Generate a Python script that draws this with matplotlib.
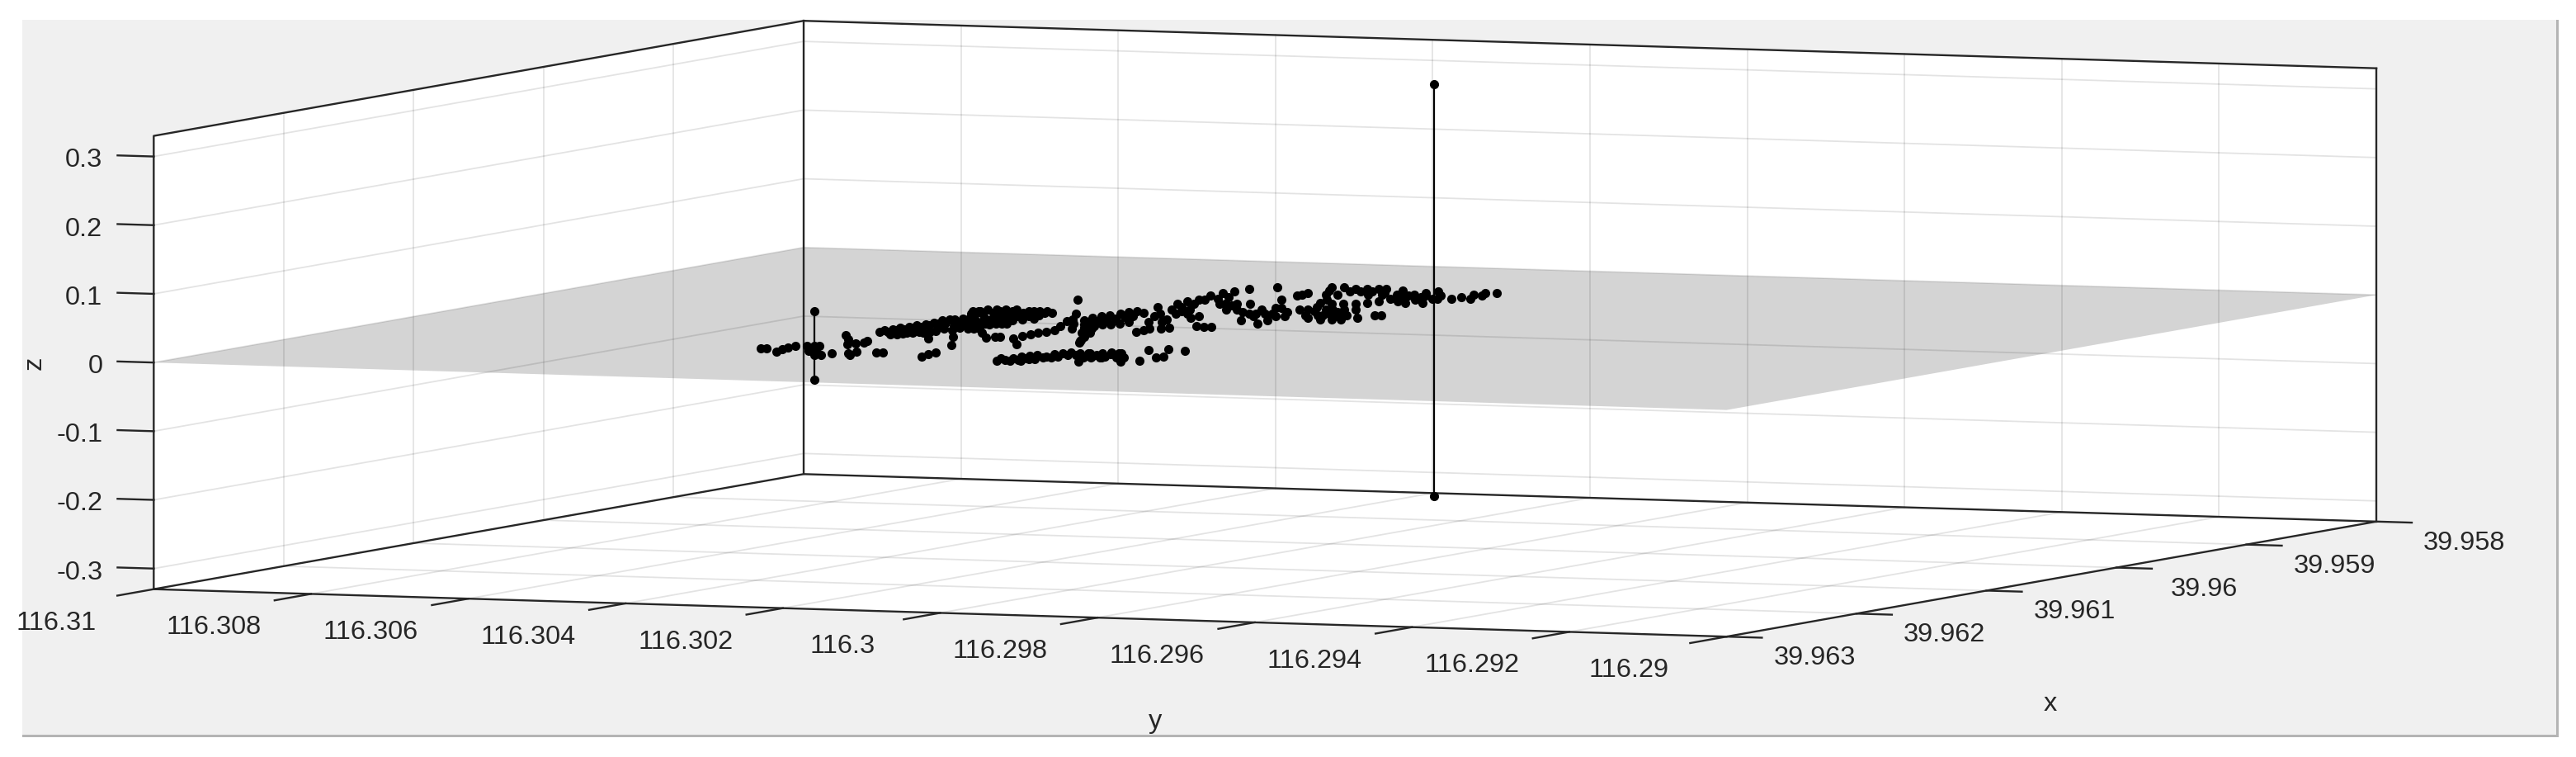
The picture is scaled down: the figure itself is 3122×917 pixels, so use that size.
# -*- coding: utf-8 -*-
"""
plot.py

Point cloud over a flat grey plane, orthographic view with a wide stretched box.
"""

import matplotlib
matplotlib.use("Agg")
import matplotlib.pyplot as plt
from matplotlib.patches import Rectangle
from mpl_toolkits.mplot3d import proj3d
from mpl_toolkits.mplot3d.art3d import Poly3DCollection

plt.rcParams["font.family"] = ["Liberation Sans", "DejaVu Sans"]

X_LIM = (39.963, 39.958)
Y_LIM = (116.29, 116.31)
Z_LIM = (-0.33, 0.33)

x_ticks = [39.958, 39.959, 39.96, 39.961, 39.962, 39.963]
y_ticks = [116.29, 116.292, 116.294, 116.296, 116.298, 116.3, 116.302, 116.304, 116.306, 116.308, 116.31]
z_ticks = [-0.3, -0.2, -0.1, 0, 0.1, 0.2, 0.3]

# the two vertical outliers, each a pair of points
stem_a_x = [39.95889, 39.95889]
stem_a_y = [116.30051, 116.30051]
stem_a_z = [0.3, -0.3]
stem_b_x = [39.96162, 39.96162]
stem_b_y = [116.30388, 116.30388]
stem_b_z = [0.05, -0.05]

# points lying on the plane (z = 0), by streak
west_x = [39.96178, 39.96178, 39.9619, 39.96179, 39.96173, 39.96167, 39.96166, 39.96165, 39.96165,
          39.96183, 39.96185, 39.96197, 39.96198, 39.96191, 39.96121, 39.96135, 39.96153, 39.9615,
          39.96146, 39.96139, 39.96189, 39.96181, 39.96194, 39.96181, 39.9618]
west_y = [116.3043, 116.30422, 116.3039, 116.30401, 116.30403, 116.30404, 116.30391, 116.30383, 116.30377,
          116.30361, 116.30348, 116.30322, 116.30329, 116.30318, 116.30416, 116.3039, 116.30361, 116.30355,
          116.30351, 116.30359, 116.303, 116.30303, 116.3029, 116.30278, 116.30271]

streak_x = [39.96104, 39.96103, 39.96097, 39.96094, 39.96087, 39.96082, 39.96075, 39.96067, 39.96063,
            39.96049, 39.96046, 39.96113, 39.96108, 39.96105, 39.96104, 39.96097, 39.96086, 39.96124,
            39.96191, 39.96183, 39.96176, 39.96147, 39.96116, 39.9609, 39.96075,
            39.96098, 39.96095, 39.96088, 39.96083, 39.96076, 39.96071, 39.96064, 39.96056, 39.9605,
            39.96059, 39.96112, 39.96106, 39.96099, 39.96098, 39.96076, 39.96079]
streak_y = [116.30401, 116.30392, 116.30392, 116.30386, 116.30387, 116.30385, 116.30386, 116.30389, 116.30385,
            116.30396, 116.30391, 116.30372, 116.30365, 116.30357, 116.30345, 116.30341, 116.30349, 116.30306,
            116.30204, 116.30209, 116.30211, 116.30239, 116.30288, 116.30332, 116.30354,
            116.30405, 116.30399, 116.30401, 116.30398, 116.304, 116.30397, 116.30398, 116.30401, 116.30401,
            116.30375, 116.30366, 116.30363, 116.30359, 116.30347, 116.30369, 116.3034]

blob_x = [39.96027, 39.96016, 39.9601, 39.96009, 39.96008, 39.96007, 39.9601, 39.96009, 39.96016,
          39.96047, 39.96041, 39.96035, 39.96033, 39.96032, 39.96031, 39.96025, 39.96073, 39.96072,
          39.96066, 39.96059, 39.96048, 39.96097, 39.96115, 39.96111, 39.96111, 39.96083,
          39.96114, 39.96105, 39.96097, 39.96091, 39.96085, 39.96079, 39.96063, 39.96045, 39.96134,
          39.96032, 39.96026, 39.96022, 39.96021, 39.9602, 39.96019, 39.96018, 39.96017,
          39.96057, 39.96054, 39.9605, 39.96043, 39.96063]
blob_y = [116.30412, 116.3042, 116.30419, 116.30409, 116.30399, 116.30387, 116.30366, 116.30354, 116.30327,
          116.30375, 116.30372, 116.30368, 116.30356, 116.30344, 116.30332, 116.30329, 116.30339, 116.30327,
          116.30324, 116.3032, 116.30325, 116.30282, 116.30247, 116.30243, 116.30236, 116.30316,
          116.30214, 116.30218, 116.30221, 116.30221, 116.3022, 116.3022, 116.30239, 116.3026, 116.30177,
          116.30399, 116.30399, 116.30392, 116.30381, 116.30371, 116.30359, 116.30347, 116.30335,
          116.30354, 116.30347, 116.3034, 116.30336, 116.30359]

blob_fill_x = [39.96019, 39.96018, 39.96016, 39.96014, 39.96012, 39.9601, 39.96048, 39.96045, 39.96044,
               39.96042, 39.9604, 39.96063, 39.96061, 39.9606, 39.96059, 39.96084, 39.96082]
blob_fill_y = [116.30423, 116.30415, 116.30393, 116.30381, 116.30357, 116.30343, 116.30381, 116.30357, 116.30345,
               116.30322, 116.3031, 116.3035, 116.30338, 116.30326, 116.30314, 116.30322, 116.3031]

lower_x = [39.96198, 39.96194, 39.96188, 39.9618, 39.96176, 39.96173, 39.96177, 39.96169, 39.96165,
           39.96161, 39.96163, 39.96162, 39.96166, 39.9617, 39.96163, 39.96159, 39.96173, 39.96189,
           39.96194, 39.96178, 39.96189, 39.96197, 39.96198, 39.96168, 39.96162, 39.9616, 39.96154,
           39.96158, 39.96177, 39.96176, 39.96174,
           39.96189, 39.96193, 39.96186, 39.96188, 39.96182, 39.96181, 39.96176, 39.96171, 39.9617,
           39.96176, 39.96172, 39.96176, 39.96174]
lower_y = [116.30097, 116.30093, 116.30092, 116.30095, 116.30091, 116.30086, 116.30068, 116.30071, 116.30067,
           116.30063, 116.30049, 116.3004, 116.30023, 116.30005, 116.3001, 116.30006, 116.29976, 116.29954,
           116.29999, 116.30025, 116.30071, 116.30068, 116.3008, 116.30042, 116.30038, 116.30025, 116.30024,
           116.30004, 116.30012, 116.3, 116.29979,
           116.30106, 116.30078, 116.30079, 116.30065, 116.30064, 116.30055, 116.30055, 116.30051, 116.30042,
           116.30023, 116.30019, 116.30002, 116.29984]

lower_end_x = [39.96184, 39.96142, 39.9617, 39.96164, 39.96138, 39.96141]
lower_end_y = [116.29938, 116.29996, 116.2994, 116.29941, 116.29978, 116.29952]

mid_x = [39.95964, 39.96015, 39.96036, 39.96072, 39.96086, 39.96085, 39.96112, 39.96122,
         39.9604, 39.96029, 39.96023, 39.96017, 39.9601, 39.96004, 39.96, 39.96006,
         39.96066, 39.96059, 39.96053, 39.9605, 39.96046, 39.9604, 39.96091, 39.96117,
         39.9605, 39.96041, 39.96034, 39.96029, 39.96022, 39.96019,
         39.96055, 39.9607, 39.96051, 39.96101]
mid_y = [116.30381, 116.30298, 116.30268, 116.30209, 116.30174, 116.30165, 116.30132, 116.30117,
         116.30247, 116.30254, 116.30253, 116.30252, 116.3025, 116.30249, 116.30245, 116.30227,
         116.30204, 116.30203, 116.30202, 116.30196, 116.30191, 116.3019, 116.30161, 116.30125,
         116.30225, 116.30227, 116.30228, 116.30225, 116.30225, 116.30219,
         116.30222, 116.30188, 116.30242, 116.30146]

east_x = [39.95981, 39.96075, 39.96063, 39.96056, 39.96017, 39.96026, 39.96004, 39.96003, 39.96012,
          39.96048, 39.9605, 39.96049, 39.95968, 39.95957, 39.95951, 39.95934, 39.95922, 39.95916,
          39.95904, 39.95896, 39.95983, 39.95982, 39.9596, 39.96022, 39.96031, 39.95994, 39.96003,
          39.96002, 39.95941, 39.95924, 39.95913, 39.95964, 39.95962, 39.95995, 39.95973,
          39.95978, 39.95966, 39.9595, 39.95943, 39.95937, 39.96018, 39.96036, 39.96038, 39.96069,
          39.96062, 39.95963, 39.95996, 39.96019, 39.95972, 39.95919,
          39.96006, 39.95989, 39.95987, 39.95993, 39.95967, 39.95992, 39.95979, 39.95993, 39.95987, 39.96006]
east_y = [116.30251, 116.30123, 116.30126, 116.30112, 116.30195, 116.30165, 116.3019, 116.30177, 116.30147,
          116.30091, 116.30078, 116.3007, 116.30247, 116.30253, 116.30248, 116.30261, 116.30265, 116.3026,
          116.30261, 116.30239, 116.3016, 116.30148, 116.30168, 116.30077, 116.30041, 116.30093, 116.30064,
          116.30054, 116.30159, 116.30168, 116.30172, 116.302, 116.30181, 116.30103, 116.30114,
          116.30225, 116.30229, 116.30242, 116.30237, 116.30233, 116.30148, 116.30155, 116.30168, 116.30123,
          116.30113, 116.30194, 116.30109, 116.30048, 116.30108, 116.3017,
          116.30206, 116.3022, 116.302, 116.302, 116.30179, 116.30124, 116.30122, 116.30085, 116.30076, 116.30088]

right_x = [39.9589, 39.95888, 39.95892, 39.95891, 39.9589, 39.95889, 39.95916, 39.95917, 39.95947,
           39.95951, 39.9595, 39.95948, 39.95942, 39.95936, 39.95924, 39.95912, 39.95906, 39.959,
           39.95893, 39.95892, 39.95938, 39.95936, 39.95913, 39.9591, 39.95978, 39.95972, 39.95981,
           39.95975, 39.96005, 39.96008, 39.96007, 39.96006, 39.95999, 39.95987, 39.95986,
           39.95917, 39.95911, 39.95899, 39.95893, 39.95892, 39.95915, 39.95904,
           39.959, 39.95903, 39.95902, 39.95901, 39.95904, 39.95936, 39.95963, 39.95987, 39.95986,
           39.95993, 39.95969, 39.95933, 39.95926, 39.95919, 39.95919, 39.95908, 39.95915,
           39.95974, 39.95971, 39.9597, 39.95995, 39.95993, 39.95991, 39.9599, 39.95912, 39.9591, 39.95908]
right_y = [116.3018, 116.30167, 116.30146, 116.30133, 116.3012, 116.30112, 116.30144, 116.30128, 116.301,
           116.30079, 116.30066, 116.30053, 116.30049, 116.30044, 116.30049, 116.30053, 116.30048, 116.30044,
           116.30039, 116.30086, 116.30007, 116.29988, 116.30096, 116.30083, 116.30056, 116.30051, 116.30022,
           116.3008, 116.3002, 116.29999, 116.29986, 116.29976, 116.29967, 116.29965, 116.29958,
           116.29983, 116.2998, 116.29984, 116.2998, 116.29967, 116.29962, 116.29966,
           116.30166, 116.30135, 116.30123, 116.3011, 116.30089, 116.3011, 116.30078, 116.30023, 116.3001,
           116.30027, 116.30019, 116.30025, 116.30014, 116.30004, 116.29997, 116.30067, 116.30025,
           116.30071, 116.30045, 116.30032, 116.3004, 116.30021, 116.30008, 116.29995, 116.30046, 116.30027, 116.30011]

groups = [
    (west_x, west_y), (streak_x, streak_y), (blob_x, blob_y), (blob_fill_x, blob_fill_y),
    (lower_x, lower_y), (lower_end_x, lower_end_y), (mid_x, mid_y), (east_x, east_y),
    (right_x, right_y),
]

FIG_W, FIG_H = 3122, 917
AX_W = 2882.5
TEXT = "#262626"
FS = 23.4


def put_label(ax, x, y, z, s, ha="center"):
    # project first, so the text sits in plain 2D axes coordinates
    px, py, _ = proj3d.proj_transform(x, y, z, ax.get_proj())
    ax.text2D(px, py, s, transform=ax.transData, color=TEXT, fontsize=FS,
              ha=ha, va="center", zorder=6)


def main():
    fig = plt.figure(figsize=(FIG_W / 100, FIG_H / 100), dpi=100, facecolor="white")

    # grey window panel behind the axes
    fig.add_artist(Rectangle((27 / FIG_W, 1 - 892 / FIG_H), 3072 / FIG_W, 868 / FIG_H,
                             transform=fig.transFigure, facecolor="#f0f0f0",
                             edgecolor="none", zorder=-2))
    fig.add_artist(Rectangle((27 / FIG_W, 1 - 893 / FIG_H), 3074 / FIG_W, 3 / FIG_H,
                             transform=fig.transFigure, facecolor="#b4b4b4",
                             edgecolor="none", zorder=-1))
    fig.add_artist(Rectangle((3098 / FIG_W, 1 - 893 / FIG_H), 3 / FIG_W, 869 / FIG_H,
                             transform=fig.transFigure, facecolor="#b4b4b4",
                             edgecolor="none", zorder=-1))

    ax = fig.add_axes([53 / FIG_W, -961.4 / FIG_H, AX_W / FIG_W, AX_W / FIG_H],
                      projection="3d", computed_zorder=False)
    ax.patch.set_visible(False)
    ax.set_proj_type("ortho")
    ax.view_init(elev=4.19, azim=202.43, roll=0)
    ax.set_box_aspect((2064, 2062, 550.5))
    ax.set_axis_off()

    x0, x1 = X_LIM  # x0 front, x1 back
    y1, y0 = Y_LIM  # y0 left, y1 right
    z0, z1 = Z_LIM

    # white walls and floor
    walls = [
        [(x1, y0, z0), (x1, y1, z0), (x1, y1, z1), (x1, y0, z1)],
        [(x0, y0, z0), (x1, y0, z0), (x1, y0, z1), (x0, y0, z1)],
        [(x0, y0, z0), (x1, y0, z0), (x1, y1, z0), (x0, y1, z0)],
    ]
    ax.add_collection3d(Poly3DCollection(walls, facecolors="white", edgecolors="none", zorder=1))

    # grey plane at z = 0
    plane = [[(x0, y0, 0), (x1, y0, 0), (x1, y1, 0), (x0, y1, 0)]]
    ax.add_collection3d(Poly3DCollection(plane, facecolors="#d4d4d4", edgecolors="none", zorder=2))

    grid = dict(color="black", alpha=0.11, linewidth=1.3, zorder=3)
    for v in x_ticks[1:-1]:
        ax.plot([v, v], [y0, y0], [z0, z1], **grid)
        ax.plot([v, v], [y0, y1], [z0, z0], **grid)
    for v in y_ticks[1:-1]:
        ax.plot([x1, x1], [v, v], [z0, z1], **grid)
        ax.plot([x0, x1], [v, v], [z0, z0], **grid)
    for v in z_ticks:
        ax.plot([x0, x1], [y0, y0], [v, v], **grid)
        ax.plot([x1, x1], [y0, y1], [v, v], **grid)

    # box outline
    box = dict(color=TEXT, linewidth=1.7, zorder=4)
    ax.plot([x0, x1, x1, x0, x0], [y0, y0, y1, y1, y0], [z0, z0, z0, z0, z0], **box)
    ax.plot([x0, x0, x1, x1], [y0, y0, y0, y1], [z0, z1, z1, z1], **box)
    ax.plot([x1, x1], [y0, y0], [z0, z1], **box)
    ax.plot([x1, x1], [y1, y1], [z0, z1], **box)

    # stems and points
    marker = dict(linestyle="none", marker="o", markersize=8.0, markeredgewidth=0,
                  color="black", zorder=5)
    for sx, sy, sz in [(stem_a_x, stem_a_y, stem_a_z), (stem_b_x, stem_b_y, stem_b_z)]:
        ax.plot(sx, sy, sz, color="black", linewidth=1.6, zorder=5)
        ax.plot(sx, sy, sz, **marker)
    for gx, gy in groups:
        ax.plot(gx, gy, [0] * len(gx), **marker)

    ax.set_xlim(x0, x1, view_margin=0)
    ax.set_ylim(y1, y0, view_margin=0)
    ax.set_zlim(z0, z1, view_margin=0)

    # ticks and their labels, everything placed along the box directions
    tick = dict(color=TEXT, linewidth=1.7, zorder=4)
    for v in x_ticks:
        ax.plot([v, v], [y1, y1 - 0.00045], [z0, z0], **tick)
        put_label(ax, v, y1 - 0.00112, z0 - 0.0274, f"{v:g}")
    for v in y_ticks:
        ax.plot([x0, x0 + 0.00028], [v, v], [z0, z0], **tick)
        put_label(ax, x0 + 0.00075, v, z0 - 0.024, f"{v:g}")
    for v in z_ticks:
        ax.plot([x0, x0], [y0, y0 + 0.00046], [v, v], **tick)
        put_label(ax, x0, y0 + 0.00065, v - 0.008, f"{v:g}", ha="right")

    # plotting may not move the limits
    ax.set_xlim(x0, x1, view_margin=0)
    ax.set_ylim(y1, y0, view_margin=0)
    ax.set_zlim(z0, z1, view_margin=0)

    fig.text(2485 / FIG_W, 1 - 853 / FIG_H, "x", color=TEXT, fontsize=FS, ha="center", va="center")
    fig.text(1400 / FIG_W, 1 - 874 / FIG_H, "y", color=TEXT, fontsize=FS, ha="center", va="center")
    fig.text(42 / FIG_W, 1 - 440 / FIG_H, "z", color=TEXT, fontsize=FS, ha="center", va="center",
             rotation=90)

    fig.savefig("out.png", dpi=100)


if __name__ == "__main__":
    main()
